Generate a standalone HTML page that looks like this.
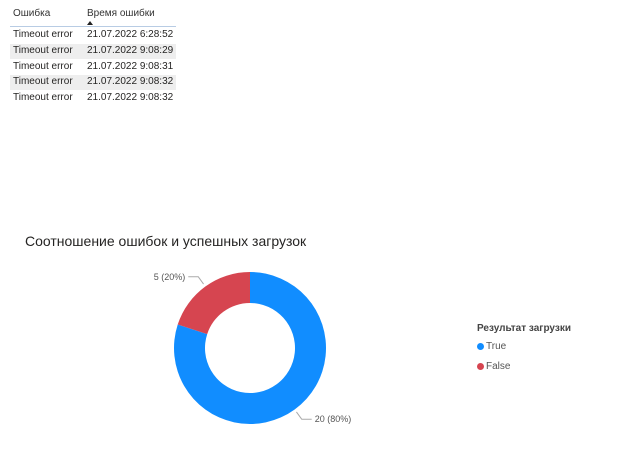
<!DOCTYPE html>
<html><head><meta charset="utf-8"><style>
body{margin:0;width:622px;height:457px;background:#fff;font-family:"Liberation Sans","DejaVu Sans",sans-serif;position:relative;overflow:hidden}
.t{position:absolute;font-size:10px;color:#252423;white-space:nowrap}
.row{position:absolute;left:10px;width:166px;height:15px}
</style></head><body>
<div>
<div class="t" style="left:13px;top:8px;color:#333">Ошибка</div>
<div class="t" style="left:87px;top:8px;color:#333">Время ошибки</div>
<div style="position:absolute;left:87px;top:21px;width:0;height:0;border-left:3px solid transparent;border-right:3px solid transparent;border-bottom:4px solid #222"></div>
<div style="position:absolute;left:10px;top:26px;width:166px;height:1px;background:#b8cce4"></div>
<div id="rows"></div>
</div>
<div class="t" style="left:25px;top:233px;font-size:14px;color:#252423">Соотношение ошибок и успешных загрузок</div>
<svg width="622" height="457" style="position:absolute;left:0;top:0" id="svg"></svg>
<div class="t" style="left:477px;top:323px;font-weight:bold;color:#444">Результат загрузки</div>
<div id="legend"></div>
<script>
const errors=["Timeout error","Timeout error","Timeout error","Timeout error","Timeout error"];
const times=["21.07.2022 6:28:52","21.07.2022 9:08:29","21.07.2022 9:08:31","21.07.2022 9:08:32","21.07.2022 9:08:32"];
const categories=["True","False"];
const values=[20,5];
const colors=["#118DFF","#D64550"];

const rows=document.getElementById('rows');
errors.forEach((e,i)=>{
  const r=document.createElement('div');
  r.className='row';
  
  
  r.style.top=(28+i*15.8)+'px';
  if(i%2==1)r.style.background='#eeeeee';
  r.innerHTML='<span class="t" style="left:3px;top:1px">'+e+'</span><span class="t" style="left:77px;top:1px">'+times[i]+'</span>';
  rows.appendChild(r);
});

const svg=document.getElementById('svg');
const NS='http://www.w3.org/2000/svg';
const cx=250,cy=348,R=76,r0=45;
const total=values.reduce((a,b)=>a+b,0);
let a=0;
function pt(rad,ang){return [cx+rad*Math.sin(ang),cy-rad*Math.cos(ang)];}
values.forEach((v,i)=>{
  const a1=a+v/total*2*Math.PI;
  const large=(a1-a)>Math.PI?1:0;
  const p1=pt(R,a),p2=pt(R,a1),p3=pt(r0,a1),p4=pt(r0,a);
  const p=document.createElementNS(NS,'path');
  p.setAttribute('d',`M${p1}A${R},${R} 0 ${large} 1 ${p2}L${p3}A${r0},${r0} 0 ${large} 0 ${p4}Z`);
  p.setAttribute('fill',colors[i]);
  
  
  svg.appendChild(p);
  const mid=(a+a1)/2;
  const e=pt(R+3,mid),f=pt(R+12,mid);
  const right=Math.sin(mid)>=0;
  const g=[f[0]+(right?10:-10),f[1]];
  const l=document.createElementNS(NS,'polyline');
  l.setAttribute('points',`${e} ${f} ${g}`);
  l.setAttribute('fill','none');l.setAttribute('stroke','#aaa');
  
  
  svg.appendChild(l);
  const t=document.createElementNS(NS,'text');
  t.setAttribute('x',g[0]+(right?3:-3));t.setAttribute('y',g[1]+3);
  t.setAttribute('text-anchor',right?'start':'end');
  t.setAttribute('font-size','9');t.setAttribute('fill','#555');
  t.setAttribute('font-family','Liberation Sans, sans-serif');
  t.textContent=v+' ('+Math.round(v/total*100)+'%)';
  
  
  svg.appendChild(t);
  a=a1;
});

const lg=document.getElementById('legend');
categories.forEach((c,i)=>{
  const d=document.createElement('div');
  
  
  d.style.cssText='position:absolute;left:477px;top:'+(341+i*20)+'px;height:12px';
  d.innerHTML='<span style="position:absolute;left:0;top:2px;width:7px;height:7px;border-radius:50%;background:'+colors[i]+'"></span><span class="t" style="left:9px;top:0;color:#555">'+c+'</span>';
  lg.appendChild(d);
});
</script>
</body></html>
